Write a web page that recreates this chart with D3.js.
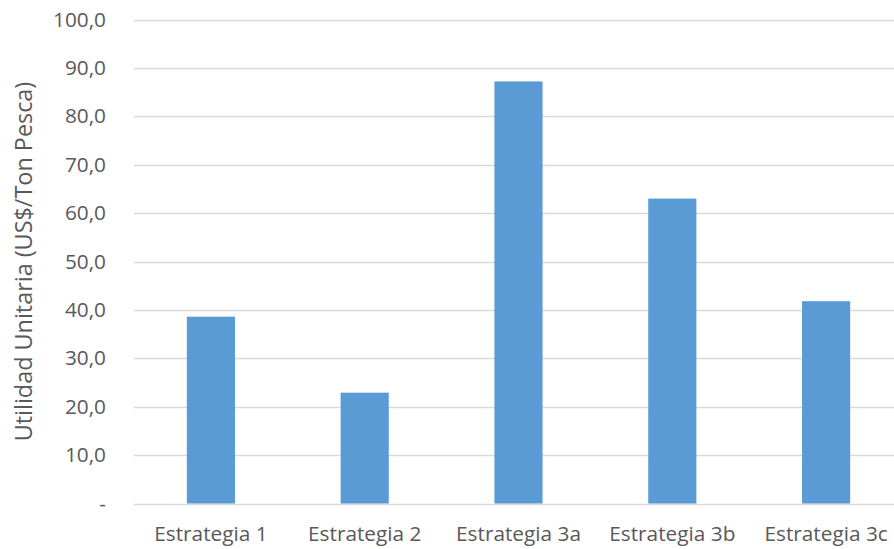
<!DOCTYPE html>
<html>
<head>
<meta charset="utf-8">
<script src="https://cdn.jsdelivr.net/npm/d3@7"></script>
<style>
  html, body { margin: 0; padding: 0; background: #fff; }
  svg { display: block; }
  text { font-family: "Open Sans", Lato, sans-serif; fill: #595959; }
</style>
</head>
<body>
<svg id="chart" width="894" height="549"></svg>
<script>
// Utilidad unitaria por estrategia (US$/Ton Pesca)
const categories = ["Estrategia 1", "Estrategia 2", "Estrategia 3a", "Estrategia 3b", "Estrategia 3c"];
const values = [38.6, 22.9, 87.2, 63.0, 41.8];
const yTicks = [0, 10, 20, 30, 40, 50, 60, 70, 80, 90, 100];
const yTitle = "Utilidad Unitaria (US$/Ton Pesca)";

const width = 894, height = 549;
const margin = { top: 19.5, right: -9, bottom: 45.5, left: 134 };
const font = '"Open Sans", Lato, sans-serif';
const labelSize = 20.8;

const svg = d3.select("#chart");

const x = d3.scaleBand()
  .domain(categories)
  .range([margin.left, width - margin.right])
  .paddingInner(0.687)
  .paddingOuter(0.3435);

const y = d3.scaleLinear()
  .domain([0, 100])
  .range([height - margin.bottom, margin.top]);

const locale = d3.formatLocale({ decimal: ",", thousands: ".", grouping: [3], currency: ["$", ""] });
const fmt = locale.format(".1f");

// Horizontal gridlines
svg.append("g")
  .selectAll("line")
  .data(yTicks)
  .join("line")
  .attr("x1", margin.left)
  .attr("x2", width - margin.right)
  .attr("y1", d => Math.round(y(d)) + 0.5)
  .attr("y2", d => Math.round(y(d)) + 0.5)
  .attr("stroke", "#d9d9d9")
  .attr("stroke-width", 1.5);

// Bars
svg.append("g")
  .selectAll("rect")
  .data(categories)
  .join("rect")
  .attr("x", d => x(d))
  .attr("width", x.bandwidth())
  .attr("y", (d, i) => y(values[i]))
  .attr("height", (d, i) => y(0) - y(values[i]))
  .attr("fill", "#5b9bd5");

// Y axis tick labels
const yAxis = d3.axisLeft(y)
  .tickValues(yTicks)
  .tickSize(0)
  .tickPadding(0)
  .tickFormat(d => d === 0 ? "-" : fmt(d));

const gy = svg.append("g")
  .attr("transform", `translate(${margin.left - 28},0)`)
  .call(yAxis);
gy.select(".domain").remove();
gy.selectAll("text")
  .attr("font-size", labelSize)
  .attr("fill", "#595959")
  .style("font-family", font);

// X axis category labels
const xAxis = d3.axisBottom(x).tickSize(0).tickPadding(0);
const gx = svg.append("g")
  .attr("transform", `translate(0,${y(0) + 22.5})`)
  .call(xAxis);
gx.select(".domain").remove();
gx.selectAll("text")
  .attr("font-size", labelSize)
  .attr("fill", "#595959")
  .style("font-family", font);

// Y axis title
svg.append("text")
  .attr("transform", `translate(31.5,${(y(0) + y(100)) / 2}) rotate(-90)`)
  .attr("text-anchor", "middle")
  .attr("font-size", 23.4)
  .style("font-family", font)
  .text(yTitle);
</script>
</body>
</html>
